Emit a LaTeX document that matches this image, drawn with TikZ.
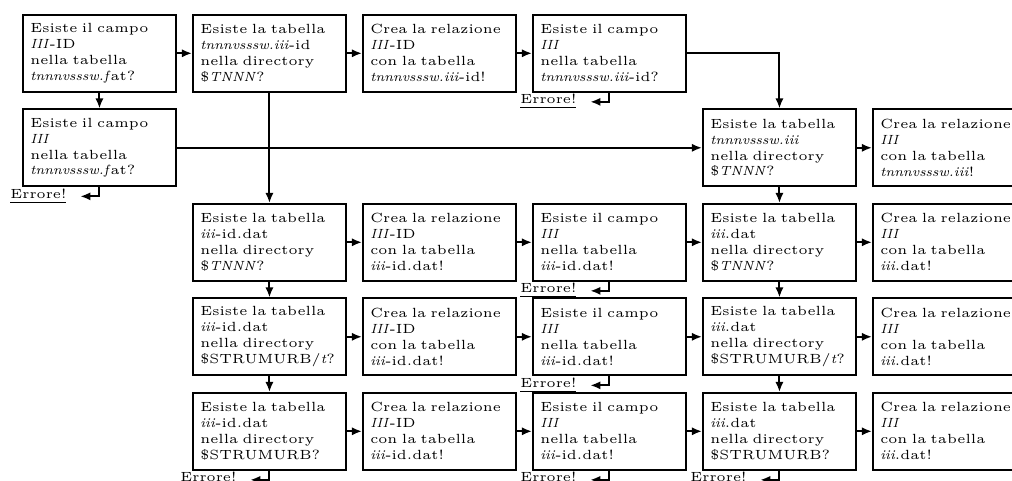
\documentclass[tikz,border=0pt]{standalone}
\usetikzlibrary{arrows.meta}
\begin{document}
\begin{tikzpicture}[x=0.376pt,y=-0.376pt,
  box/.style={draw, line width=0.75pt, minimum width=57.5pt, minimum height=28.8pt,
    text width=52pt, align=left, inner xsep=2.75pt, inner ysep=0pt,
    font=\fontsize{5}{6}\selectfont, anchor=north west},
  arr/.style={line width=0.75pt, -{Latex[length=3.8pt,width=3.1pt]}},
  err/.style={inner sep=0pt, font=\fontsize{5}{6}\selectfont, anchor=base east,
    xshift=-12.2pt, yshift=-4.25pt},
  errarr/.style={arr, shorten >=5pt},
]
\useasboundingbox (0,0) rectangle (1012,481);
\node[box] (a1) at (22,14) {Esiste il campo\\ \textit{III}-ID\\ nella tabella\\ \textit{tnnnvsssw.f}at?};
\node[box] (b1) at (192,14) {Esiste la tabella\\ \textit{tnnnvsssw.iii}-id\\ nella directory\\ \$\textit{TNNN}?};
\node[box] (c1) at (362,14) {Crea la relazione\\ \textit{III}-ID\\ con la tabella\\ \textit{tnnnvsssw.iii}-id!};
\node[box] (d1) at (532,14) {Esiste il campo\\ \textit{III}\\ nella tabella\\ \textit{tnnnvsssw.iii}-id?};
\node[box] (a2) at (22,108.5) {Esiste il campo\\ \textit{III}\\ nella tabella\\ \textit{tnnnvsssw.f}at?};
\node[box] (e2) at (702,108.5) {Esiste la tabella\\ \textit{tnnnvsssw.iii}\\ nella directory\\ \$\textit{TNNN}?};
\node[box] (f2) at (872,108.5) {Crea la relazione\\ \textit{III}\\ con la tabella\\ \textit{tnnnvsssw.iii}!};
\node[box] (p1) at (192,203) {Esiste la tabella\\ \textit{iii}-id.dat\\ nella directory\\ \$\textit{TNNN}?};
\node[box] (p2) at (362,203) {Crea la relazione\\ \textit{III}-ID\\ con la tabella\\ \textit{iii}-id.dat!};
\node[box] (p3) at (532,203) {Esiste il campo\\ \textit{III}\\ nella tabella\\ \textit{iii}-id.dat!};
\node[box] (p4) at (702,203) {Esiste la tabella\\ \textit{iii}.dat\\ nella directory\\ \$\textit{TNNN}?};
\node[box] (p5) at (872,203) {Crea la relazione\\ \textit{III}\\ con la tabella\\ \textit{iii}.dat!};
\node[box] (q1) at (192,297.5) {Esiste la tabella\\ \textit{iii}-id.dat\\ nella directory\\ \$STRUMURB/\textit{t}?};
\node[box] (q2) at (362,297.5) {Crea la relazione\\ \textit{III}-ID\\ con la tabella\\ \textit{iii}-id.dat!};
\node[box] (q3) at (532,297.5) {Esiste il campo\\ \textit{III}\\ nella tabella\\ \textit{iii}-id.dat!};
\node[box] (q4) at (702,297.5) {Esiste la tabella\\ \textit{iii}.dat\\ nella directory\\ \$STRUMURB/\textit{t}?};
\node[box] (q5) at (872,297.5) {Crea la relazione\\ \textit{III}\\ con la tabella\\ \textit{iii}.dat!};
\node[box] (s1) at (192,392) {Esiste la tabella\\ \textit{iii}-id.dat\\ nella directory\\ \$STRUMURB?};
\node[box] (s2) at (362,392) {Crea la relazione\\ \textit{III}-ID\\ con la tabella\\ \textit{iii}-id.dat!};
\node[box] (s3) at (532,392) {Esiste il campo\\ \textit{III}\\ nella tabella\\ \textit{iii}-id.dat!};
\node[box] (s4) at (702,392) {Esiste la tabella\\ \textit{iii}.dat\\ nella directory\\ \$STRUMURB?};
\node[box] (s5) at (872,392) {Crea la relazione\\ \textit{III}\\ con la tabella\\ \textit{iii}.dat!};
\node[err] (ea2) at (a2.south) {\underline{Errore!}};
\node[err] (ed1) at (d1.south) {\underline{Errore!}};
\node[err] (ep3) at (p3.south) {\underline{Errore!}};
\node[err] (eq3) at (q3.south) {\underline{Errore!}};
\node[err] (es1) at (s1.south) {\underline{Errore!}};
\node[err] (es3) at (s3.south) {\underline{Errore!}};
\node[err] (es4) at (s4.south) {\underline{Errore!}};
\draw[arr] (a1) -- (b1);
\draw[arr] (b1) -- (c1);
\draw[arr] (c1) -- (d1);
\draw[arr] (d1.east) -| (e2.north);
\draw[arr] (a1) -- (a2);
\draw[arr] (a2) -- (e2);
\draw[arr] (b1) -- (p1);
\draw[arr] (e2) -- (f2);
\draw[arr] (e2) -- (p4);
\draw[arr] (p1) -- (p2);
\draw[arr] (p2) -- (p3);
\draw[arr] (p3) -- (p4);
\draw[arr] (p4) -- (p5);
\draw[arr] (q1) -- (q2);
\draw[arr] (q2) -- (q3);
\draw[arr] (q3) -- (q4);
\draw[arr] (q4) -- (q5);
\draw[arr] (s1) -- (s2);
\draw[arr] (s2) -- (s3);
\draw[arr] (s3) -- (s4);
\draw[arr] (s4) -- (s5);
\draw[arr] (p1) -- (q1);
\draw[arr] (q1) -- (s1);
\draw[arr] (p4) -- (q4);
\draw[arr] (q4) -- (s4);
\draw[errarr] (a2.south) |- (ea2.east);
\draw[errarr] (d1.south) |- (ed1.east);
\draw[errarr] (p3.south) |- (ep3.east);
\draw[errarr] (q3.south) |- (eq3.east);
\draw[errarr] (s1.south) |- (es1.east);
\draw[errarr] (s3.south) |- (es3.east);
\draw[errarr] (s4.south) |- (es4.east);
\end{tikzpicture}
\end{document}
